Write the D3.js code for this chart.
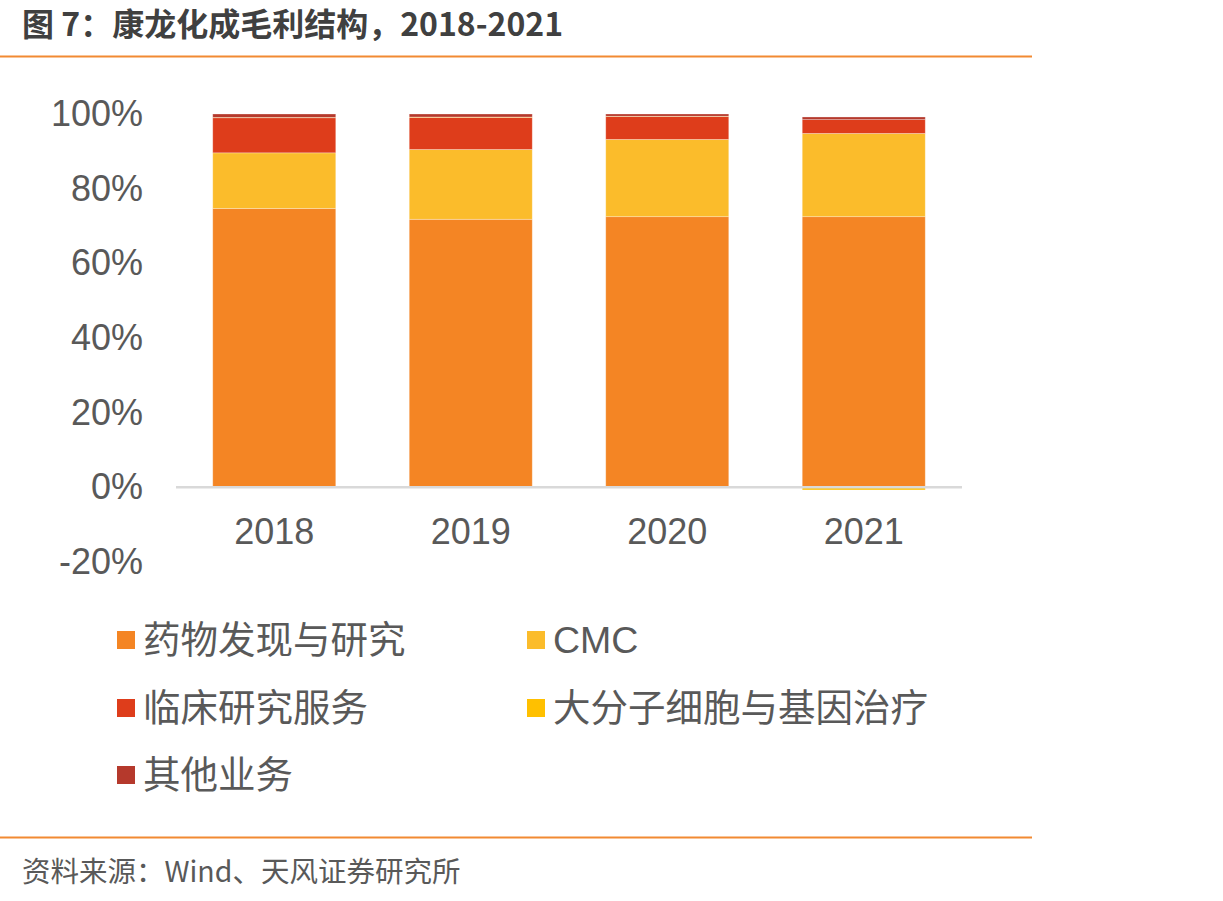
<!DOCTYPE html>
<html>
<head>
<meta charset="utf-8">
<script src="https://cdn.jsdelivr.net/npm/d3@7"></script>
<style>
  body { margin: 0; background: #fff; }
  text { font-family: "Liberation Sans", Arial, "Noto Sans CJK SC", sans-serif; }
</style>
</head>
<body>
<div class="container"></div>
<script>
// chart data (percent of gross profit)
const years = ["2018", "2019", "2020", "2021"];
const seriesNames = ["药物发现与研究", "CMC", "临床研究服务", "大分子细胞与基因治疗", "其他业务"];
const drugDiscovery = [74.7, 71.8, 72.5, 72.5];
const cmc = [14.9, 18.7, 20.7, 22.3];
const clinical = [9.4, 8.6, 6.1, 3.7];
const bigMolecule = [0.1, 0.1, 0.1, -0.7];
const otherBiz = [0.9, 0.8, 0.6, 0.7];
const yTicks = [-20, 0, 20, 40, 60, 80, 100];
const colors = ["#F48524", "#FBBC2B", "#DE3D1B", "#FFC000", "#B5392C"];

const width = 1223;
const height = 901;
const margin = { top: 114, bottom: 414, left: 176, right: 261 };

const svg = d3.select(".container")
  .append("svg")
  .attr("width", width)
  .attr("height", height);

// build rows for the stack
const values = [drugDiscovery, cmc, clinical, bigMolecule, otherBiz];
const rows = years.map((y, i) => {
  const r = { year: y };
  seriesNames.forEach((s, k) => { r[s] = values[k][i]; });
  return r;
});

const stack = d3.stack()
  .keys(seriesNames)
  .offset(d3.stackOffsetDiverging);
const stacked = stack(rows);

const xScale = d3.scaleBand()
  .domain(years)
  .range([margin.left, width - margin.right])
  .paddingInner(0.374)
  .paddingOuter(0.187);

// 0% at y=487, 100% at y=114
const yScale = d3.scaleLinear()
  .domain([-20, 100])
  .range([562, 114]);

// title
svg.append("text")
  .attr("x", 22)
  .attr("y", 36)
  .attr("font-size", "32px")
  .attr("font-weight", "bold")
  .attr("fill", "#404040")
  .style("font-family", "'Noto Sans CJK SC', sans-serif")
  .text("图 7：康龙化成毛利结构，2018-2021");

// orange rules
svg.append("line")
  .attr("x1", 0).attr("x2", 1032)
  .attr("y1", 56.5).attr("y2", 56.5)
  .attr("stroke", "#F28A32").attr("stroke-width", 2);
svg.append("line")
  .attr("x1", 0).attr("x2", 1032)
  .attr("y1", 837.5).attr("y2", 837.5)
  .attr("stroke", "#F28A32").attr("stroke-width", 2);

// bars
svg.append("g")
  .selectAll("g")
  .data(stacked)
  .join("g")
  .attr("fill", (d, i) => colors[i])
  .selectAll("rect")
  .data(d => d)
  .join("rect")
  .attr("x", d => xScale(d.data.year))
  .attr("y", d => yScale(d[1]))
  .attr("height", d => Math.max(0, yScale(d[0]) - yScale(d[1])))
  .attr("width", xScale.bandwidth())
  .attr("stroke", "#fff")
  .attr("stroke-opacity", 0.35)
  .attr("stroke-width", 0.8);

// zero axis line
svg.append("line")
  .attr("x1", margin.left).attr("x2", width - margin.right)
  .attr("y1", yScale(0)).attr("y2", yScale(0))
  .attr("stroke", "#D9D9D9").attr("stroke-width", 2.5);

// y axis labels
const yAxis = d3.axisLeft(yScale)
  .tickValues(yTicks)
  .tickFormat(d => d + "%")
  .tickSize(0)
  .tickPadding(0);
const gy = svg.append("g")
  .attr("transform", "translate(143,0)")
  .call(yAxis);
gy.select(".domain").remove();
gy.selectAll("text")
  .attr("font-size", "36px")
  .attr("fill", "#595959")
  .style("font-family", "'Liberation Sans', Arial, sans-serif");

// x axis labels
const xAxis = d3.axisBottom(xScale).tickSize(0).tickPadding(0);
const gx = svg.append("g")
  .attr("transform", "translate(0,518)")
  .call(xAxis);
gx.select(".domain").remove();
gx.selectAll("text")
  .attr("font-size", "36px")
  .attr("fill", "#595959")
  .style("font-family", "'Liberation Sans', Arial, sans-serif");

// legend
const legendPos = [
  { x: 117, y: 640 }, { x: 527, y: 640 },
  { x: 117, y: 708 }, { x: 527, y: 708 },
  { x: 117, y: 775 }
];
const legend = svg.append("g")
  .selectAll("g")
  .data(seriesNames)
  .join("g")
  .attr("transform", (d, i) => `translate(${legendPos[i].x},${legendPos[i].y})`);
legend.append("rect")
  .attr("x", 0).attr("y", -9)
  .attr("width", 18).attr("height", 18)
  .attr("fill", (d, i) => colors[i]);
legend.append("text")
  .attr("x", 26)
  .attr("y", 0)
  .attr("dy", "0.35em")
  .attr("font-size", "37.5px")
  .attr("fill", "#595959")
  .text(d => d);

// source
svg.append("text")
  .attr("x", 22)
  .attr("y", 882)
  .attr("font-size", "28.5px")
  .attr("fill", "#595959")
  .style("font-family", "'Noto Sans CJK SC', sans-serif")
  .text("资料来源：Wind、天风证券研究所");
</script>
</body>
</html>
